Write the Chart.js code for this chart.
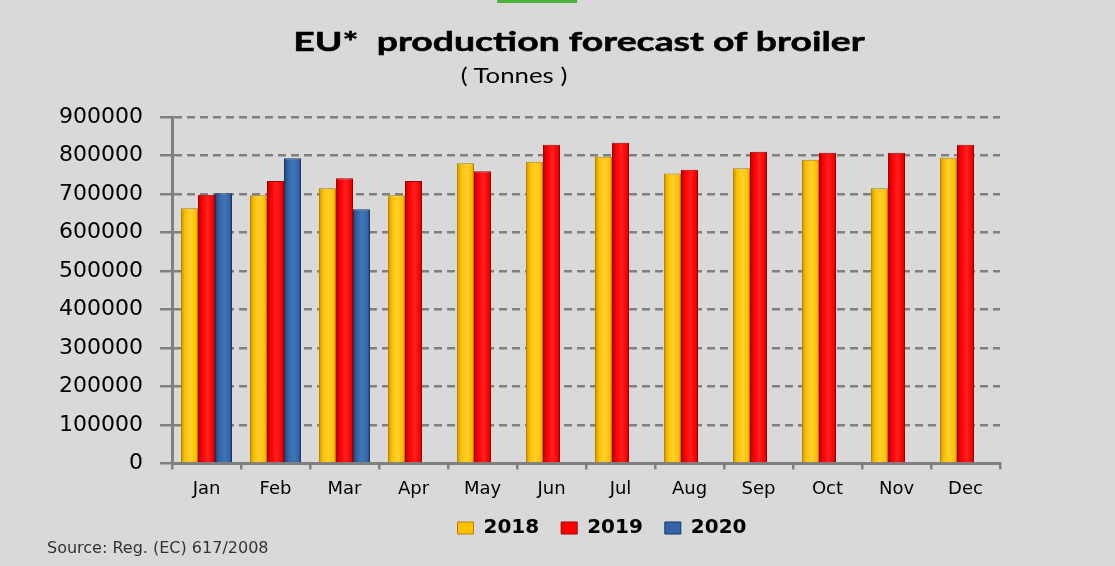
<!DOCTYPE html>
<html>
<head>
<meta charset="utf-8">
<script src="https://cdn.jsdelivr.net/npm/chart.js@4"></script>
<style>
  html, body { margin: 0; padding: 0; background: #d9d9d9; }
  #wrap { position: relative; width: 1115px; height: 566px; overflow: hidden; }
  #mark { position: absolute; left: 497px; top: 0; width: 80px; height: 3px; background: #4db33d; }
  .head { position: absolute; white-space: pre; color: #000; font-family: Lato, sans-serif; transform-origin: 50% 50%; }
  #title { left: 579px; top: 25px; font-size: 27px; line-height: 32px; font-weight: bold; -webkit-text-stroke: 0.5px #000; }
  #subtitle { left: 514px; top: 62px; font-size: 21px; line-height: 26px; }
  #source { position: absolute; left: 47px; top: 538px; font: 16px "DejaVu Sans", sans-serif; color: #333; }
</style>
</head>
<body>
<div id="wrap">
  <canvas id="broiler" width="1115" height="566"></canvas>
  <div id="mark"></div>
  <div class="head" id="title">EU*  production forecast of broiler</div>
  <div class="head" id="subtitle">( Tonnes )</div>
  <div id="source">Source: Reg. (EC) 617/2008</div>
</div>
<script>
const months = ['Jan', 'Feb', 'Mar', 'Apr', 'May', 'Jun', 'Jul', 'Aug', 'Sep', 'Oct', 'Nov', 'Dec'];
const prod2018 = [663000, 697000, 715000, 697000, 780000, 784000, 797000, 753000, 767000, 789000, 715000, 794000];
const prod2019 = [698000, 734000, 741000, 734000, 759000, 828000, 833000, 763000, 810000, 807000, 807000, 828000];
const prod2020 = [702000, 793000, 660000, null, null, null, null, null, null, null, null, null];

// the heading text in the original is wider than any font we have, stretch it
function stretch(id, w) {
    const el = document.getElementById(id);
    el.style.transform = 'translateX(-50%) scaleX(' + (w / el.offsetWidth) + ')';
}
stretch('title', 572);
stretch('subtitle', 107);

// colours for each year: edge, centre, highlight
const shades = [
    ['#c89400', '#ffc000', '#ffd030'],
    ['#b80000', '#ff0000', '#ff2020'],
    ['#1f3f6b', '#3366a8', '#3f75b8']
];

// give every bar a little horizontal gradient like the excel 3D look
const barShade = {
    id: 'barShade',
    beforeDatasetsDraw(chart) {
        const ctx = chart.ctx;
        chart.data.datasets.forEach((ds, i) => {
            const meta = chart.getDatasetMeta(i);
            const s = shades[i];
            meta.data.forEach(el => {
                if (!el.width) return;
                const g = ctx.createLinearGradient(el.x - el.width / 2, 0, el.x + el.width / 2, 0);
                g.addColorStop(0, s[0]);
                g.addColorStop(0.25, s[1]);
                g.addColorStop(0.55, s[2]);
                g.addColorStop(0.85, s[1]);
                g.addColorStop(1, s[0]);
                el.options = Object.assign({}, el.options, { backgroundColor: g });
            });
        });
    }
};

// legend sits right of centre and a bit higher in the original
const legendNudge = {
    id: 'legendNudge',
    afterLayout(chart) {
        const lg = chart.legend;
        lg.left += 102;
        lg.right += 102;
        lg.top -= 13;
        lg.bottom -= 13;
    }
};

const ctx = document.getElementById('broiler');
new Chart(ctx, {
    type: 'bar',
    data: {
        labels: months,
        datasets: [
            { label: '2018', data: prod2018, backgroundColor: '#ffc000', borderColor: '#b08400', borderWidth: 1 },
            { label: '2019', data: prod2019, backgroundColor: '#ff0000', borderColor: '#a00000', borderWidth: 1 },
            { label: '2020', data: prod2020, backgroundColor: '#3366a8', borderColor: '#1a3560', borderWidth: 1 }
        ]
    },
    plugins: [barShade, legendNudge],
    options: {
        responsive: false,
        animation: false,
        layout: { padding: { left: 0, right: 115, top: 117, bottom: 5 } },
        datasets: {
            bar: { categoryPercentage: 0.74, barPercentage: 1.0 }
        },
        plugins: {
            legend: {
                position: 'bottom',
                labels: {
                    color: '#000',
                    boxWidth: 16,
                    boxHeight: 12,
                    padding: 22,
                    font: { family: 'DejaVu Sans', size: 20, weight: 'bold' }
                }
            },
            tooltip: { enabled: false }
        },
        scales: {
            x: {
                grid: { drawOnChartArea: false, color: '#808080', lineWidth: 2.5, tickLength: 6 },
                border: { color: '#808080', width: 3 },
                ticks: { color: '#000', padding: 9, font: { family: 'DejaVu Sans', size: 18 } }
            },
            y: {
                min: 0,
                max: 900000,
                afterFit: function (scale) { scale.width = 172; },
                grid: { color: '#808080', lineWidth: 2.5, tickLength: 12, tickBorderDash: [] },
                border: { color: '#808080', width: 3, dash: [8, 5] },
                ticks: {
                    stepSize: 100000,
                    color: '#000',
                    padding: 17,
                    font: { family: 'DejaVu Sans', size: 22 },
                    callback: function (value) {
                        return String(value);
                    }
                }
            }
        }
    }
});
</script>
</body>
</html>
